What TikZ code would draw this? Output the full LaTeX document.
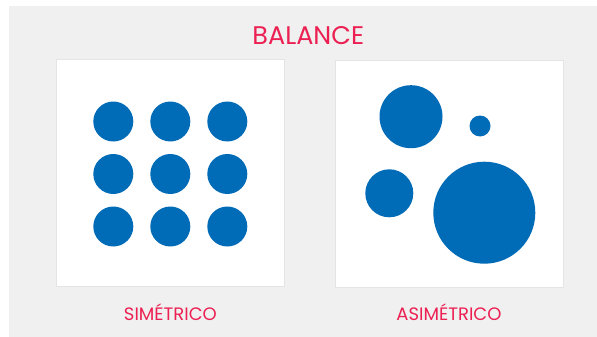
\documentclass[tikz,border=0pt]{standalone}
\usepackage{fontspec}
\setmainfont{Poppins}
\usepackage{xcolor}
\definecolor{fondo}{HTML}{F0F0F0}
\definecolor{borde}{HTML}{E4E4E4}
\definecolor{rojo}{RGB}{236,32,82}
\definecolor{azul}{RGB}{0,107,182}

\begin{document}
\begin{tikzpicture}[x=1pt, y=-1pt,
  panel/.style={draw=borde, fill=white, line width=1pt, inner sep=0pt,
    minimum width=228pt, minimum height=226pt},
  dot/.style={circle, fill=azul, inner sep=0pt, minimum size=#1},
  rotulo/.style={text=rojo, anchor=base, inner sep=0pt}]
\useasboundingbox (0,0) rectangle (597,337);
\fill[fondo] (9,6) rectangle (597,337);
% paneles
\node[panel] (sim) at (170,173) {};
\node[panel] (asim) at (449,174) {};
% simetrico: rejilla 3x3
\foreach \i in {0,1,2}
  \foreach \j in {0,1,2}
    \node[dot=40pt] (s\i\j) at (113.3+57*\i, 121.5+52.5*\j) {};
% asimetrico
\node[dot=63pt] (a1) at (411,116.7) {};
\node[dot=21pt] (a2) at (480,126) {};
\node[dot=48pt] (a3) at (389.3,193.3) {};
\node[dot=102pt] (a4) at (484.3,212.7) {};
% textos
\node[rotulo, font=\fontsize{25.5}{25}\selectfont] (titulo) at (308.3,44.3) {BALANCE};
\node[rotulo, font=\fontsize{18}{18}\selectfont] (tsim) at (170.4,320) {SIMÉTRICO};
\node[rotulo, font=\fontsize{18}{18}\selectfont] (tasim) at (449,320) {ASIMÉTRICO};
\end{tikzpicture}
\end{document}
